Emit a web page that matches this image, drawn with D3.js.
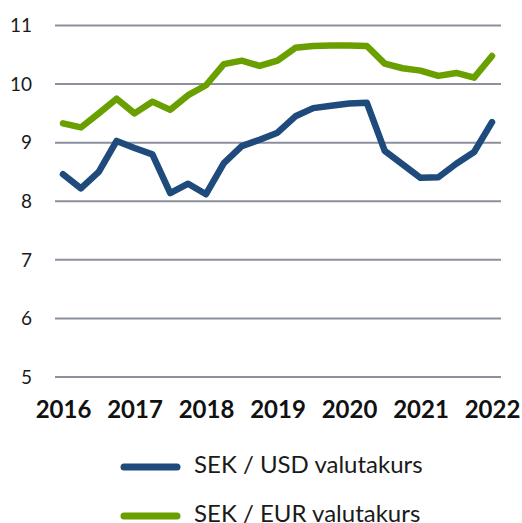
<!DOCTYPE html>
<html>
<head>
<meta charset="utf-8">
<script src="https://cdn.jsdelivr.net/npm/d3@7"></script>
<style>
  body { margin: 0; background: #fff; }
  svg { display: block; font-family: Lato, 'Open Sans', sans-serif; }
</style>
</head>
<body>
<svg id="chart" width="522" height="523"></svg>
<script>
// quarterly observations, 2016 Q1 .. 2022 Q1
const quarters = d3.range(25)
const yearLabels = ['2016', '2017', '2018', '2019', '2020', '2021', '2022']
const yTicks = [5, 6, 7, 8, 9, 10, 11]

const sekUsd = [8.46, 8.22, 8.50, 9.03, 8.91, 8.80, 8.14, 8.30, 8.12, 8.65,
  8.94, 9.05, 9.17, 9.45, 9.59, 9.63, 9.67, 9.68, 8.86, 8.63,
  8.40, 8.41, 8.64, 8.84, 9.35]
const sekEur = [9.33, 9.26, 9.50, 9.75, 9.50, 9.70, 9.56, 9.81, 9.98, 10.34,
  10.40, 10.31, 10.40, 10.62, 10.65, 10.66, 10.66, 10.65, 10.35, 10.27,
  10.23, 10.14, 10.19, 10.11, 10.48]

const series = [
  { name: 'SEK / USD valutakurs', values: sekUsd, color: '#1f4a7c' },
  { name: 'SEK / EUR valutakurs', values: sekEur, color: '#6a9f00' }
]

const svg = d3.select('#chart')

// plot area
const x = d3.scaleLinear().domain([0, 24]).range([63, 492])
const y = d3.scaleLinear().domain([5, 11]).range([377, 25.5])

/*** grid ***/
svg.append('g')
  .attr('class', 'grid')
  .selectAll('line')
  .data(yTicks)
  .join('line')
  .attr('x1', 55)
  .attr('x2', 501)
  .attr('y1', d => y(d))
  .attr('y2', d => y(d))
  .attr('stroke', '#8c909e')
  .attr('stroke-width', 2)

/*** y axis labels ***/
svg.append('g')
  .attr('class', 'y axis')
  .attr('transform', 'translate(32, 0)')
  .call(d3.axisLeft(y).tickValues(yTicks).tickSize(0).tickPadding(0)
    .tickFormat(d3.format('d')))
  .call(g => g.select('.domain').remove())
  .selectAll('text')
  .attr('font-family', 'Lato, sans-serif')
  .attr('font-size', 19)
  .attr('fill', '#1a1a1a')
  .attr('dy', '0.33em')

/*** x axis labels ***/
svg.append('g')
  .attr('class', 'x axis')
  .attr('transform', 'translate(0, 401)')
  .call(d3.axisBottom(x).tickValues(d3.range(0, 25, 4)).tickSize(0).tickPadding(0)
    .tickFormat((d, i) => yearLabels[i]))
  .call(g => g.select('.domain').remove())
  .selectAll('text')
  .attr('font-family', 'Lato, sans-serif')
  .attr('font-size', 24)
  .attr('font-weight', 'bold')
  .attr('fill', '#111')

/*** lines ***/
const line = d3.line()
  .x((d, i) => x(quarters[i]))
  .y(d => y(d))

svg.append('g')
  .attr('class', 'lines')
  .selectAll('path')
  .data(series)
  .join('path')
  .attr('d', d => line(d.values))
  .attr('fill', 'none')
  .attr('stroke', d => d.color)
  .attr('stroke-width', 6.5)
  .attr('stroke-linejoin', 'round')
  .attr('stroke-linecap', 'round')

/*** legend ***/
const legend = svg.append('g')
  .attr('class', 'legend')
  .selectAll('g')
  .data(series)
  .join('g')
  .attr('transform', (d, i) => 'translate(0,' + (467 + i * 49) + ')')

legend.append('line')
  .attr('x1', 124)
  .attr('x2', 177)
  .attr('stroke', d => d.color)
  .attr('stroke-width', 7)
  .attr('stroke-linecap', 'round')

legend.append('text')
  .text(d => d.name)
  .attr('x', 194)
  .attr('y', 6)
  .attr('font-size', 24)
  .attr('fill', '#1a1a1a')
</script>
</body>
</html>
